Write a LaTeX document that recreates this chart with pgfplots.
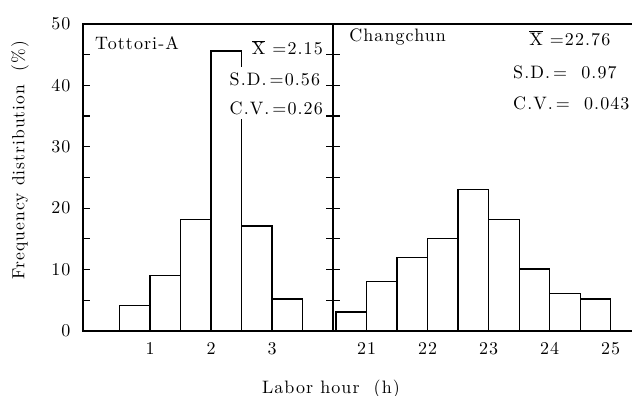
\documentclass[border=0pt]{standalone}
\usepackage{fontspec}
\setmainfont{lmroman10-regular}[Extension=.otf, LetterSpace=6]
\usepackage{pgfplots}
\pgfplotsset{compat=1.18}
\newcommand\fs{\fontsize{18}{21}\selectfont}
\begin{document}
\begin{tikzpicture}
\useasboundingbox (-83pt,-65pt) rectangle (549pt,331pt);
\pgfplotsset{
 common/.style={
  scale only axis, height=307pt, ymin=0, ymax=50,
  ytick={0,10,...,50}, minor ytick={5,15,...,45},
  tick align=inside, major tick length=7pt, minor tick length=7pt,
  axis line style={line width=1.5pt},
  every tick/.style={line width=1.2pt, black},
  xtick style={draw=none},
  tick label style={font=\fs},
  yticklabel style={xshift=-9pt},
  xticklabel style={yshift=-8pt},
  /pgf/number format/assume math mode=true,
 },
 bars/.style={draw=black, fill=white, line width=1.2pt, ybar interval},
}
\begin{axis}[common, at={(0pt,0pt)}, anchor=south west, width=250pt,
  xmin=-0.1, xmax=4, xtick={1,2,3},
  xlabel={Labor hour\ \ (h)}, ylabel={Frequency distribution\ \ (\%)},
  every axis x label/.style={at={(axis description cs:0.992,-0.19)}, anchor=center, font=\fs},
  every axis y label/.style={at={(axis description cs:-0.252,0.557)}, anchor=center, rotate=90, font=\fontsize{17.5}{20}\selectfont},
]
\addplot[bars] coordinates {(0.5,4.1) (1,9.0) (1.5,18.1) (2,45.6) (2.5,17.1) (3,5.2) (3.5,0)};
\node[anchor=west, font=\fs, inner sep=0pt] at (rel axis cs:0.048,0.938) {Tottori-A};
\node[anchor=east, font=\fs, inner sep=0pt] at (rel axis cs:0.96,0.922) {$\overline{\mbox{X}}$\ =2.15};
\node[anchor=east, font=\fontsize{18}{29}\selectfont, align=left, fill=white, inner xsep=1pt, inner ysep=5pt] at (rel axis cs:0.964,0.774) {S.D.\,=0.56\\C.V.\,=0.26};
\end{axis}
\begin{axis}[common, at={(250pt,0pt)}, anchor=south west, width=299pt,
  xmin=20.45, xmax=25.35, xtick={21,22,23,24,25}, yticklabels={},
  axis x line*=box, axis y line*=left, axis line style={-, line width=1.5pt},
]
\addplot[bars] coordinates {(20.5,3.1) (21,8.0) (21.5,12.0) (22,15.0) (22.5,23.0) (23,18.1) (23.5,10.1) (24,6.1) (24.5,5.2) (25,0)};
\node[anchor=west, font=\fs, inner sep=0pt] at (rel axis cs:0.054,0.958) {Changchun};
\node[anchor=west, font=\fs, inner sep=0pt] at (rel axis cs:0.656,0.954) {$\overline{\mbox{X}}$\ =22.76};
\node[anchor=west, font=\fontsize{18}{31}\selectfont, align=left, inner sep=0pt] at (rel axis cs:0.602,0.793) {S.D.\,=\ \ 0.97\\C.V.\,=\ \ 0.043};
\end{axis}
\end{tikzpicture}
\end{document}
